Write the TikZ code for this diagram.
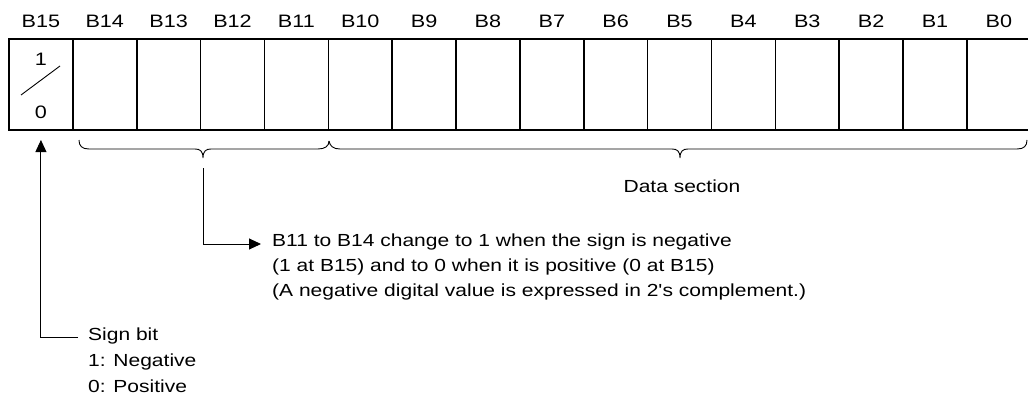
\documentclass[tikz,border=0pt]{standalone}
\usepackage{fontspec}
\setmainfont[FakeStretch=1.2,Ligatures=TeXOff]{Liberation Sans}
\usetikzlibrary{arrows.meta}

\begin{document}
\begin{tikzpicture}[x=1pt,y=-1pt,
  cell/.style={draw,line width=1.6pt,minimum width=63.86pt,minimum height=91pt,inner sep=0pt,outer sep=0pt},
  bitlbl/.style={anchor=base,inner sep=0pt,font=\fontsize{18}{22}\selectfont},
  txt/.style={anchor=base west,inner sep=0pt,font=\fontsize{17.5}{22}\selectfont},
  thin/.style={line width=0.9pt},
  arr/.style={thin,-{Triangle[length=12pt,width=11pt]}}]
\useasboundingbox (0,0) rectangle (1028,396);
\clip (0,0) rectangle (1028,396);

% register cells, B15 at the left
\foreach \k in {0,...,15}{
  \pgfmathtruncatemacro{\b}{15-\k}
  \node[cell] (c\k) at ({9+63.86*(\k+0.5)},84.5) {};
  \node[bitlbl] (l\k) at ({9+63.86*(\k+0.5)},28) {B\b};
}

% sign cell contents
\node[bitlbl] (one) at (41,66) {1};
\node[bitlbl] (zero) at (41,118) {0};
\coordinate (s1) at (21,95);
\coordinate (s2) at (60,66);
\draw[thin] (s1) -- (s2);

% braces under B14--B11 and B10--B0
\coordinate (bt) at (203,168);
\draw[thin] (79,140) .. controls (79,146) and (82,149) .. (89,149) -- (195,149)
  .. controls (200,149) and (203,151) .. (203,158)
  .. controls (203,151) and (206,149) .. (211,149) -- (318,149)
  .. controls (325,149) and (329,146) .. (329,141);
\draw[thin] (329,141) .. controls (330,146) and (333,149) .. (340,149) -- (672,149)
  .. controls (677,149) and (680,151) .. (680,158)
  .. controls (680,151) and (683,149) .. (688,149) -- (1017,149)
  .. controls (1024,149) and (1027,146) .. (1027,140);

\node[txt,anchor=base] (data) at (682,192) {Data section};

% note on B11 to B14
\node[txt] (note1) at (272,246) {B11 to B14 change to 1 when the sign is negative};
\node[txt] (note2) at (272,271) {(1 at B15) and to 0 when it is positive (0 at B15)};
\node[txt] (note3) at (272,296) {(A negative digital value is expressed in 2's complement.)};
\draw[arr] (bt) |- ([xshift=-11pt,yshift=2pt]note1.base west);

% sign bit legend
\node[txt] (signbit) at (88,340) {Sign bit};
\node[txt] (neg) at (88,366) {1: Negative};
\node[txt] (pos) at (88,392) {0: Positive};
\draw[arr] ([xshift=-10pt,yshift=3pt]signbit.base west) -| ([yshift=-10pt]c0.south);
\end{tikzpicture}
\end{document}
